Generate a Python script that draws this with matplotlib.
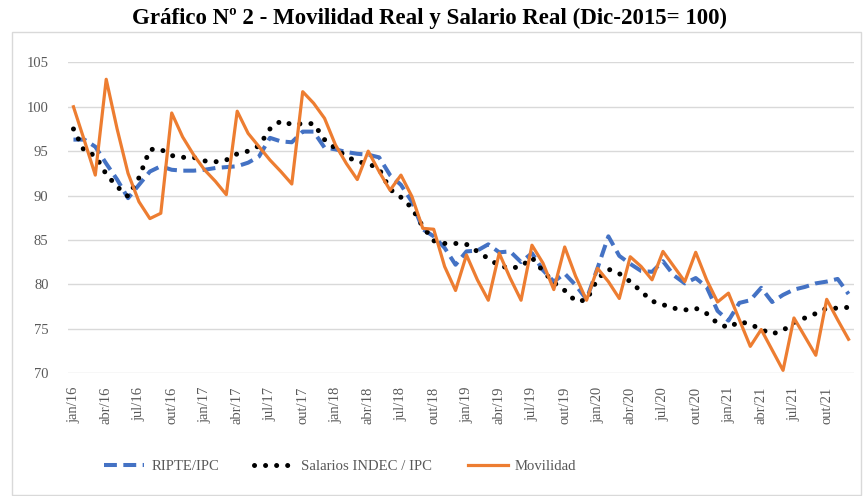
import numpy as np
import matplotlib
matplotlib.use("Agg")
import matplotlib.pyplot as plt
from matplotlib.patches import Rectangle

# Months jan/16 .. dez/21
meses = ['jan', 'fev', 'mar', 'abr', 'mai', 'jun', 'jul', 'ago', 'set', 'out', 'nov', 'dez']
anos = ['16', '17', '18', '19', '20', '21']
labels = [m + '/' + a for a in anos for m in meses]

# RIPTE / IPC (dashed blue)
ripte = [96.3, 96.3, 95.5, 93.6, 91.8, 89.7, 91.2, 92.7, 93.3, 92.9, 92.8, 92.8,
         92.9, 93.1, 93.2, 93.3, 93.7, 94.4, 96.5, 96.1, 96.0, 97.2, 97.2, 95.4,
         95.2, 94.9, 94.7, 94.6, 94.3, 92.3, 91.2, 89.3, 86.2, 85.4, 84.1, 82.2,
         83.7, 83.8, 84.5, 83.6, 83.7, 82.5, 83.5, 81.6, 80.3, 81.2, 79.9, 78.3,
         81.8, 85.4, 83.2, 82.3, 81.5, 81.4, 82.6, 81.0, 80.1, 80.7, 79.7, 77.0,
         75.9, 77.9, 78.2, 79.6, 78.0, 78.8, 79.4, 79.7, 80.1, 80.3, 80.6, 78.9]

# Salarios INDEC / IPC (black dots)
indec = [97.5, 95.0, 94.5, 92.4, 91.0, 89.9, 92.0, 95.2, 95.2, 94.5, 94.3, 94.3,
         93.9, 93.8, 94.0, 94.7, 95.0, 95.6, 97.5, 98.4, 98.0, 98.1, 98.1, 96.3,
         95.3, 94.4, 93.8, 93.6, 93.0, 90.7, 89.8, 88.6, 86.5, 84.9, 84.6, 84.6,
         84.5, 83.7, 82.9, 82.1, 81.8, 82.0, 83.0, 81.5, 80.2, 79.3, 78.1, 78.2,
         80.6, 81.7, 81.2, 80.3, 79.2, 78.1, 77.7, 77.3, 77.1, 77.3, 76.7, 75.6,
         75.1, 75.8, 75.5, 74.9, 74.4, 74.8, 75.7, 76.2, 76.7, 77.3, 77.3, 77.4]

# Movilidad (orange)
movilidad = [100.0, 96.2, 92.3, 103.1, 97.5, 92.5, 89.3, 87.4, 88.0, 99.3, 96.6, 94.6,
             92.9, 91.6, 90.1, 99.5, 97.0, 95.5, 94.0, 92.7, 91.3, 101.7, 100.4, 98.7,
             95.7, 93.6, 91.8, 95.0, 92.7, 90.6, 92.3, 89.9, 86.3, 86.2, 82.0, 79.3,
             83.3, 80.5, 78.2, 83.5, 80.7, 78.2, 84.4, 82.4, 79.4, 84.2, 80.9, 78.2,
             81.8, 80.3, 78.4, 83.1, 82.0, 80.5, 83.7, 82.0, 80.3, 83.6, 80.5, 78.0,
             79.0, 76.0, 73.0, 74.9, 72.6, 70.3, 76.2, 74.1, 72.0, 78.3, 76.0, 73.8]

x = np.arange(len(labels))

plt.rcParams['font.family'] = ['Liberation Serif', 'DejaVu Serif']

fig = plt.figure(figsize=(8.66, 4.96), dpi=100)
ax = fig.add_axes([68 / 866, 1 - 373 / 496, (854 - 68) / 866, (373 - 62.4) / 496])

# outer chart frame
fig.patches.append(Rectangle((12 / 866, 0.002), 849 / 866, (496 - 33) / 496,
                             transform=fig.transFigure, fill=False,
                             edgecolor='#d9d9d9', linewidth=1))

ax.plot(x, ripte, color='#4472C4', lw=2.9, linestyle=(0, (3.2, 1.6)),
        label='RIPTE/IPC')
ax.plot(x, indec, color='black', lw=3.6, linestyle=(0, (0.01, 2.2)),
        dash_capstyle='round', label='Salarios INDEC / IPC')
ax.plot(x, movilidad, color='#ED7D31', lw=2.3, label='Movilidad')

ax.set_xlim(-0.5, len(labels) - 0.5)
ax.set_ylim(70, 105)
ax.set_yticks(np.arange(70, 106, 5))
ax.set_xticks(x[::3])
ax.set_xticklabels(labels[::3], rotation=90)
ax.tick_params(axis='both', length=0, colors='#595959', labelsize=10.5)
ax.tick_params(axis='y', pad=14)
ax.tick_params(axis='x', pad=10)
ax.grid(axis='y', color='#d9d9d9', lw=1)
ax.set_axisbelow(True)
for s in ax.spines.values():
    s.set_visible(False)

fig.text(429 / 866, 1 - 18 / 496, 'Gráfico Nº 2 - Movilidad Real y Salario Real (Dic-2015= 100)',
         ha='center', va='center', fontsize=16.5, fontweight='bold')

leg = fig.legend(loc='center left', bbox_to_anchor=(104 / 866, 1 - 466 / 496), ncol=3,
                 frameon=False, fontsize=10.6, handlelength=2.7, columnspacing=2.4,
                 handletextpad=0.5, borderaxespad=0, borderpad=0)
for t in leg.get_texts():
    t.set_color('#595959')

fig.savefig('out.png', dpi=100)
